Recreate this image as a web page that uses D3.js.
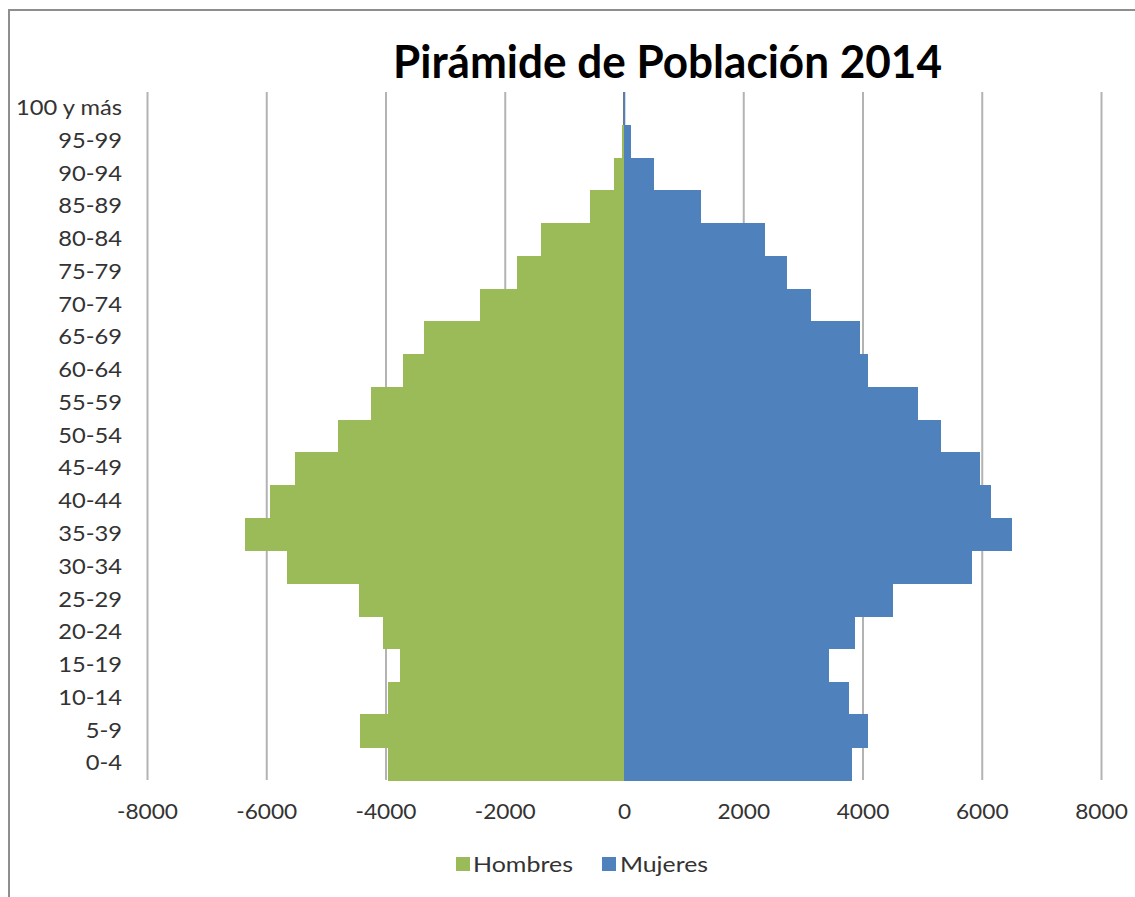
<!DOCTYPE html>
<html>
<head>
<meta charset="utf-8">
<script src="https://cdn.jsdelivr.net/npm/d3@7"></script>
<style>
  html, body { margin: 0; padding: 0; background: #fff; }
  svg { display: block; }
  text { font-family: Lato, "Open Sans", sans-serif; }
</style>
</head>
<body>
<svg id="chart" width="1135" height="897"></svg>
<script>
// ---- data ----
const categories = ["0-4","5-9","10-14","15-19","20-24","25-29","30-34","35-39","40-44","45-49",
  "50-54","55-59","60-64","65-69","70-74","75-79","80-84","85-89","90-94","95-99","100 y más"];
const hombres = [-3960,-4420,-3960,-3750,-4050,-4440,-5660,-6350,-5940,-5510,
  -4800,-4240,-3700,-3360,-2420,-1790,-1400,-570,-170,-30,-5];
const mujeres = [3825,4090,3770,3440,3880,4510,5830,6505,6150,5970,
  5315,4930,4090,3960,3140,2740,2370,1295,495,125,20];
const xTicks = [-8000,-6000,-4000,-2000,0,2000,4000,6000,8000];
const seriesNames = ["Hombres","Mujeres"];
const seriesColors = ["#9BBB59","#4F81BD"];
const chartTitle = "Pirámide de Población 2014";

// ---- layout ----
const svg = d3.select("#chart");
const plotLeft = 147, plotRight = 1101, plotTop = 92, plotBottom = 780;

const x = d3.scaleLinear().domain([-8000, 8000]).range([plotLeft, plotRight]);
const y = d3.scaleBand().domain(categories.slice().reverse()).range([plotTop, plotBottom]).padding(0);

// outer border
svg.append("path")
  .attr("d", `M9,${897+5} L9,10 L${1135+5},10`)
  .attr("fill", "none").attr("stroke", "#8e8e8e").attr("stroke-width", 2);

// title
svg.append("text")
  .attr("x", 393).attr("y", 78)
  .attr("textLength", 549).attr("lengthAdjust", "spacingAndGlyphs")
  .attr("font-size", 45).attr("font-weight", "bold").attr("fill", "#000")
  .text(chartTitle);

// gridlines
const grid = svg.append("g").attr("transform", `translate(0,${plotBottom})`)
  .call(d3.axisBottom(x).tickValues(xTicks).tickSize(-(plotBottom - plotTop)).tickFormat(""));
grid.select(".domain").remove();
grid.selectAll(".tick line").attr("stroke", "#b3b3b3").attr("stroke-width", 2);

// axis line at zero
svg.append("line")
  .attr("x1", x(0)).attr("x2", x(0)).attr("y1", plotTop).attr("y2", plotBottom)
  .attr("stroke", "#3b5a85").attr("stroke-width", 1.5);

// bars
const rows = categories.map((c, i) => ({c, h: hombres[i], m: mujeres[i]}));
svg.append("g").attr("shape-rendering", "crispEdges").selectAll("rect").data(rows).join("rect")
  .attr("x", d => x(d.h)).attr("width", d => x(0) - x(d.h))
  .attr("y", d => y(d.c)).attr("height", y.bandwidth() + 0.5)
  .attr("fill", seriesColors[0]);
svg.append("g").attr("shape-rendering", "crispEdges").selectAll("rect").data(rows).join("rect")
  .attr("x", x(0)).attr("width", d => x(d.m) - x(0))
  .attr("y", d => y(d.c)).attr("height", y.bandwidth() + 0.5)
  .attr("fill", seriesColors[1]);

// x axis labels
const xa = svg.append("g").attr("transform", `translate(0,${plotBottom})`)
  .call(d3.axisBottom(x).tickValues(xTicks).tickSize(0).tickPadding(24).tickFormat(d => String(d)));
xa.select(".domain").remove();
xa.selectAll("text").attr("font-size", 21).attr("fill", "#333")
  .attr("transform", "scale(1.08,1)");

// y axis labels
const ya = svg.append("g").attr("transform", `translate(${plotLeft},0)`)
  .call(d3.axisLeft(y).tickSize(0).tickPadding(25));
ya.select(".domain").remove();
ya.selectAll("text").attr("font-size", 21).attr("fill", "#333")
  .attr("transform", "translate(-25,0) scale(1.13,1) translate(25,0)");

// legend
const legX = [456, 602], legTextX = [473, 620], legTextW = [100, 88];
const leg = svg.append("g");
seriesNames.forEach((n, i) => {
  leg.append("rect").attr("x", legX[i]).attr("y", 857).attr("width", 14).attr("height", 14).attr("fill", seriesColors[i]);
  leg.append("text").attr("x", legTextX[i]).attr("y", 872).attr("font-size", 22).attr("fill", "#333")
    .attr("textLength", legTextW[i]).attr("lengthAdjust", "spacingAndGlyphs").text(n);
});
</script>
</body>
</html>
